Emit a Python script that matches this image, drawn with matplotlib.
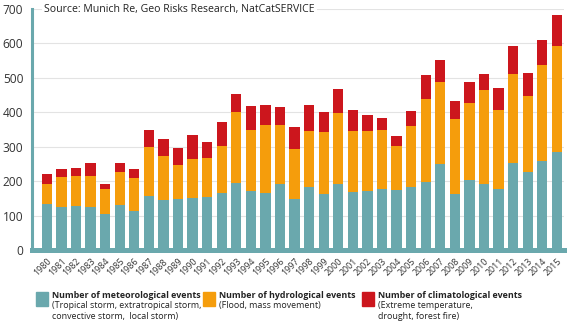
import numpy as np
import matplotlib.pyplot as plt
from matplotlib.patches import Rectangle

plt.rcParams['font.family'] = ['Open Sans', 'DejaVu Sans']

# Natural catastrophe counts per year, by event family
years = list(range(1980, 2016))
meteorological = [135, 124, 127, 124, 105, 132, 114, 158, 145, 147,
                  150, 153, 166, 195, 172, 165, 191, 148, 182, 162,
                  191, 169, 172, 178, 175, 184, 197, 250, 163, 203,
                  192, 178, 252, 228, 259, 286]
hydro_top = [193, 212, 214, 214, 178, 228, 208, 300, 272, 248,
             265, 268, 302, 402, 348, 363, 363, 294, 346, 343,
             398, 346, 346, 350, 302, 359, 440, 489, 380, 427,
             466, 408, 511, 447, 538, 594]
totals = [220, 236, 238, 252, 193, 253, 235, 348, 322, 296,
          335, 313, 372, 452, 417, 421, 415, 358, 421, 401,
          468, 407, 392, 383, 332, 403, 507, 551, 432, 488,
          510, 470, 593, 515, 610, 684]

hydrological = [h - m for h, m in zip(hydro_top, meteorological)]
climatological = [t - h for t, h in zip(totals, hydro_top)]

teal = '#6aa8ad'
orange = '#f59d0c'
red = '#cc161d'

fig = plt.figure(figsize=(5.7, 3.3), dpi=100)
ax = fig.add_axes([0.0556, 0.2424, 0.9334, 0.7303])

x = np.arange(len(years))
w = 0.71
ax.bar(x, meteorological, w, color=teal, zorder=2)
ax.bar(x, hydrological, w, bottom=meteorological, color=orange, zorder=2)
ax.bar(x, climatological, w, bottom=hydro_top, color=red, zorder=2)

ax.set_xlim(-1.04, 35.47)
ax.set_ylim(0, 700)
ax.set_yticks(range(0, 701, 100))
ax.yaxis.grid(True, color='#e3e3e3', linewidth=0.8, zorder=0)
ax.set_axisbelow(True)

ax.set_xticks(x)
ax.set_xticklabels([str(y) for y in years], rotation=45, ha='right',
                   rotation_mode='anchor', fontsize=6.4, color='#333333')
ax.tick_params(axis='x', length=0, pad=5)
ax.tick_params(axis='y', length=0, pad=6, labelsize=8.6, labelcolor='#333333')

for s in ['top', 'right']:
    ax.spines[s].set_visible(False)
ax.spines['left'].set_color(teal)
ax.spines['left'].set_linewidth(2.2)
ax.spines['bottom'].set_color(teal)
ax.spines['bottom'].set_linewidth(3.6)
ax.spines['bottom'].set_zorder(3)

ax.text(0.023, 1.0, 'Source: Munich Re, Geo Risks Research, NatCatSERVICE',
        transform=ax.transAxes, fontsize=7.6, color='#222222',
        va='center', ha='left', zorder=4,
        bbox=dict(facecolor='white', edgecolor='none', pad=1.5))

# legend along the bottom
entries = [
    (teal, 36, 'Number of meteorological events',
     '(Tropical storm, extratropical storm,\nconvective storm,  local storm)'),
    (orange, 203, 'Number of hydrological events',
     '(Flood, mass movement)'),
    (red, 362, 'Number of climatological events',
     '(Extreme temperature,\ndrought, forest fire)'),
]
for color, px, head, sub in entries:
    fig.patches.append(Rectangle((px / 570, 1 - 306 / 330), 12 / 570, 14 / 330,
                                 transform=fig.transFigure, color=color))
    fig.text((px + 16) / 570, 1 - 295.5 / 330, head, fontsize=6.4,
             fontweight='bold', color='#222222', va='center', ha='left')
    fig.text((px + 16) / 570, 1 - 301 / 330, sub, fontsize=6.4,
             color='#222222', va='top', ha='left', linespacing=1.25)

fig.savefig('out.png', dpi=100)
